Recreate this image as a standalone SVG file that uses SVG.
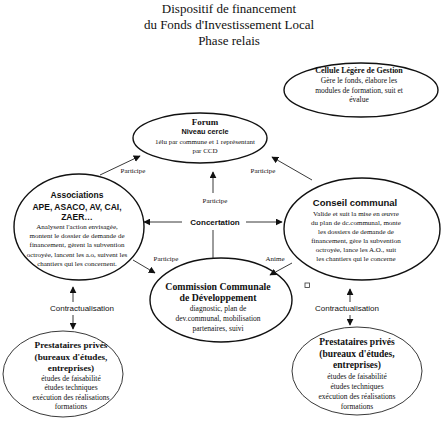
<svg xmlns="http://www.w3.org/2000/svg" width="443" height="433" viewBox="0 0 443 433">
<style>
.serif{font-family:"Liberation Serif","Times New Roman",serif;fill:#111}
.sans{font-family:"Liberation Sans",Arial,sans-serif;fill:#111}
.title{font-size:13px}
.b{font-weight:bold}
.node{fill:none;stroke:#111;stroke-width:1.4}
.thin{fill:none;stroke:#222;stroke-width:0.9}
.edge{fill:none;stroke:#222;stroke-width:0.9}
.s7{font-size:7px}
.s75{font-size:7.5px}
.lbl{font-size:7px}
</style>
<defs>
<marker id="ah" viewBox="0 0 10 10" refX="9" refY="5" markerWidth="7" markerHeight="7" markerUnits="userSpaceOnUse" orient="auto">
<path d="M0,0 L10,5 L0,10 Z" fill="#111"/>
</marker>
</defs>
<rect width="443" height="433" fill="#fff"/>
<g id="title" class="serif title" text-anchor="middle">
<text x="229" y="13">Dispositif de financement</text>
<text x="229" y="29">du Fonds d'Investissement Local</text>
<text x="229" y="45">Phase relais</text>
</g>
<g id="cellule" text-anchor="middle">
<ellipse class="node" cx="361" cy="90" rx="77" ry="27"/>
<text class="serif b" font-size="8" x="359" y="73">Cellule Légère de Gestion</text>
<text class="serif" font-size="7.5" x="359" y="83">Gère le fonds, élabore les</text>
<text class="serif" font-size="7.5" x="359" y="93">modules de formation, suit et</text>
<text class="serif" font-size="7.5" x="359" y="102">évalue</text>
</g>
<g id="forum" text-anchor="middle">
<ellipse class="node" cx="200" cy="138" rx="67" ry="25"/>
<text class="serif b" font-size="9" x="205" y="125">Forum</text>
<text class="sans b" font-size="7.3" x="205" y="134">Niveau cercle</text>
<text class="serif s7" x="205" y="143.5">1élu par commune et 1 représentant</text>
<text class="serif s7" x="205" y="153">par CCD</text>
</g>
<g id="associations" text-anchor="middle">
<ellipse class="node" cx="79" cy="227" rx="65" ry="53"/>
<text class="sans b" font-size="8.5" x="77" y="198">Associations</text>
<text class="sans b" font-size="8.5" x="77" y="210">APE, ASACO, AV, CAI,</text>
<text class="sans b" font-size="8.5" x="77" y="220">ZAER…</text>
<text class="serif s7" x="77" y="228.5">Analysent l'action envisagée,</text>
<text class="serif s7" x="77" y="237.5">montent le dossier de demande de</text>
<text class="serif s7" x="77" y="247">financement, gèrent la subvention</text>
<text class="serif s7" x="77" y="256.5">octroyée, lancent les a.o, suivent les</text>
<text class="serif s7" x="77" y="265.5">chantiers qui les concernent.</text>
</g>
<g id="conseil" text-anchor="middle">
<ellipse class="node" cx="362" cy="229" rx="78" ry="51"/>
<text class="sans b" font-size="9.5" x="355" y="205.5">Conseil communal</text>
<text class="serif s7" x="356" y="215.5">Valide et suit la mise en œuvre</text>
<text class="serif s7" x="356" y="224.5">du plan de dc.communal, monte</text>
<text class="serif s7" x="356" y="233.5">les dossiers de demande de</text>
<text class="serif s7" x="356" y="242.5">financement, gère la subvention</text>
<text class="serif s7" x="356" y="251.5">octroyée, lance les A.O., suit</text>
<text class="serif s7" x="356" y="260.5">les chantiers qui le concerne</text>
</g>
<g id="commission" text-anchor="middle">
<ellipse class="node" cx="221" cy="300" rx="71" ry="42"/>
<text class="serif b" font-size="9.8" x="218" y="290">Commission Communale</text>
<text class="serif b" font-size="9.8" x="218" y="301">de Développement</text>
<text class="serif" font-size="7.5" x="218" y="311">diagnostic, plan de</text>
<text class="serif" font-size="7.5" x="218" y="321">dev.communal, mobilisation</text>
<text class="serif" font-size="7.5" x="218" y="331">partenaires, suivi</text>
</g>
<g id="prestataires-gauche" text-anchor="middle">
<ellipse class="thin" cx="63" cy="374" rx="60" ry="43"/>
<text class="serif b" font-size="9.2" x="71" y="348">Prestataires privés</text>
<text class="serif b" font-size="9.2" x="71" y="359.5">(bureaux d'études,</text>
<text class="serif b" font-size="9.2" x="71" y="371">entreprises)</text>
<text class="serif s75" x="71" y="380.5">études de faisabilité</text>
<text class="serif s75" x="71" y="390">études techniques</text>
<text class="serif s75" x="71" y="399.5">exécution des réalisations</text>
<text class="serif s75" x="71" y="408.5">formations</text>
</g>
<g id="prestataires-droite" text-anchor="middle">
<ellipse class="thin" cx="357" cy="371" rx="65" ry="44"/>
<text class="serif b" font-size="9.5" x="357" y="345">Prestataires privés</text>
<text class="serif b" font-size="9.5" x="357" y="357">(bureaux d'études,</text>
<text class="serif b" font-size="9.5" x="357" y="368">entreprises)</text>
<text class="serif s75" x="357" y="379">études de faisabilité</text>
<text class="serif s75" x="357" y="389">études techniques</text>
<text class="serif s75" x="357" y="399">exécution des réalisations</text>
<text class="serif s75" x="357" y="408.5">formations</text>
</g>
<g id="connectors">
<line class="edge" x1="100" y1="175" x2="140" y2="156" marker-end="url(#ah)"/>
<line class="edge" x1="312" y1="180" x2="272" y2="157" marker-end="url(#ah)"/>
<line class="edge" x1="213" y1="193" x2="213" y2="172" marker-end="url(#ah)"/>
<line class="edge" x1="182" y1="222" x2="144" y2="222" marker-end="url(#ah)"/>
<line class="edge" x1="246" y1="222" x2="282" y2="222" marker-end="url(#ah)"/>
<line class="edge" x1="213" y1="230" x2="213" y2="258"/>
<line class="edge" x1="133" y1="260" x2="155" y2="273" marker-end="url(#ah)"/>
<line class="edge" x1="292" y1="263" x2="270" y2="275" marker-end="url(#ah)"/>
<line class="edge" x1="73" y1="302" x2="73" y2="287" marker-end="url(#ah)"/>
<line class="edge" x1="73" y1="315" x2="73" y2="329" marker-end="url(#ah)"/>
<line class="edge" x1="350" y1="302" x2="350" y2="289" marker-end="url(#ah)"/>
<line class="edge" x1="350" y1="315" x2="350" y2="325" marker-end="url(#ah)"/>
<g text-anchor="middle">
<text class="serif lbl" x="133" y="173">Participe</text>
<text class="serif lbl" x="263" y="173">Participe</text>
<text class="serif lbl" x="215" y="203">Participe</text>
<text class="sans b" font-size="8" x="215" y="225">Concertation</text>
<text class="serif lbl" x="166" y="261">Participe</text>
<text class="serif lbl" x="275" y="261">Anime</text>
<text class="sans" font-size="8" x="82" y="311">Contractualisation</text>
<text class="sans" font-size="8" x="347" y="311">Contractualisation</text>
</g>
</g>
<rect x="305" y="283" width="4.5" height="4.5" fill="none" stroke="#333" stroke-width="0.8"/>
</svg>
